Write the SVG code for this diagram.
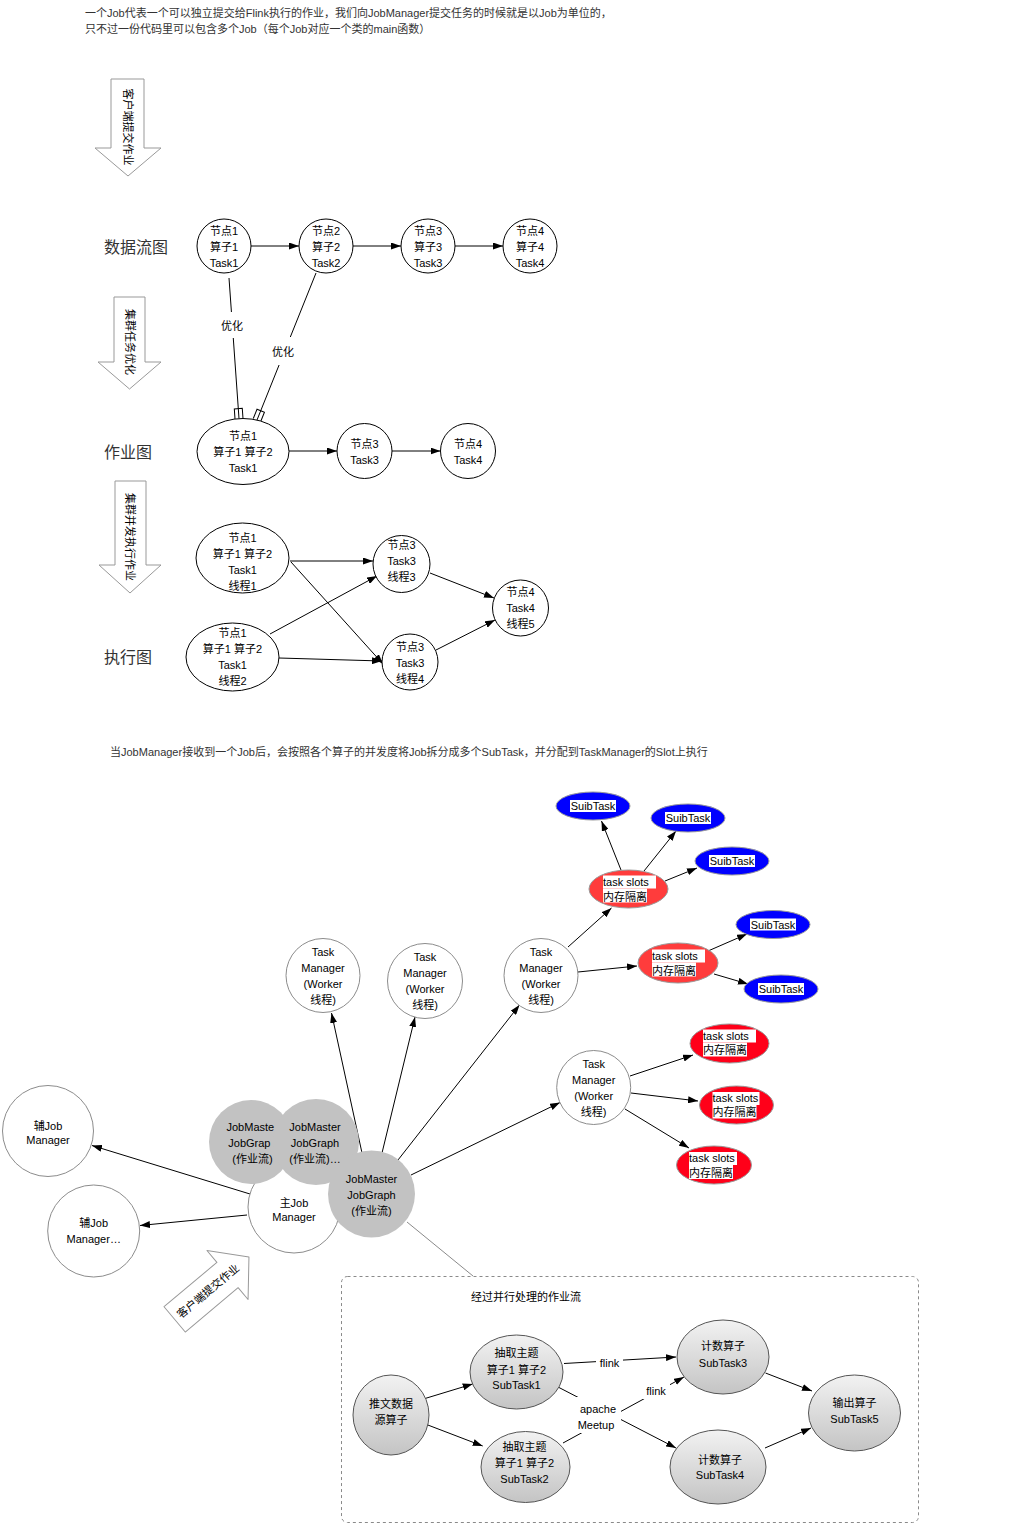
<svg xmlns="http://www.w3.org/2000/svg" width="1035" height="1524" viewBox="0 0 1035 1524">
<defs>
<style>
text{font-family:"Liberation Sans","Noto Sans CJK SC",sans-serif;font-size:11px;fill:#000;text-anchor:middle}
.note{text-anchor:start;fill:#333}
.big{font-size:16px;fill:#333;text-anchor:start}
.lab{text-anchor:start}
.n1{fill:#fff;stroke:#000;stroke-width:1}
.n2{fill:#fff;stroke:#8c8c8c;stroke-width:1}
.gray{fill:#c2c2c2;stroke:none}
.blue{fill:#0000ff;stroke:#9a9a9a}
.redA{fill:#ff3c3c;stroke:#9a9a9a}
.redB{fill:#ff0019;stroke:#9a9a9a}
.grad{fill:url(#g);stroke:#555}
.bigarrow{fill:#fff;stroke:#999;stroke-linejoin:round}
.e{fill:none;stroke:#000;stroke-width:1;marker-end:url(#ah)}
.fk{fill:none;stroke:#000;stroke-width:1;marker-end:url(#fork)}
.bg{fill:#fff}
</style>
<marker id="ah" markerUnits="userSpaceOnUse" markerWidth="10" markerHeight="7" viewBox="0 0 10 7" refX="10" refY="3.5" orient="auto"><path d="M0,0 L10,3.5 L0,7 Z" fill="#000"/></marker>
<marker id="fork" markerUnits="userSpaceOnUse" markerWidth="14" markerHeight="12" viewBox="-12 -6 14 12" refX="0" refY="0" orient="auto"><path d="M0,-4 H-10 V4 H0" fill="none" stroke="#000"/></marker>
<linearGradient id="g" x1="0" y1="0" x2="0" y2="1"><stop offset="0" stop-color="#f2f2f2"/><stop offset="1" stop-color="#c4c4c4"/></linearGradient>
</defs>
<rect width="1035" height="1524" fill="#fff"/>

<g id="notes">
<text class="note" x="85" y="17">一个Job代表一个可以独立提交给Flink执行的作业，我们向JobManager提交任务的时候就是以Job为单位的，</text>
<text class="note" x="85" y="33">只不过一份代码里可以包含多个Job（每个Job对应一个类的main函数）</text>
<text class="note" x="110" y="756">当JobManager接收到一个Job后，会按照各个算子的并发度将Job拆分成多个SubTask，并分配到TaskManager的Slot上执行</text>
<text class="big" x="104" y="253">数据流图</text>
<text class="big" x="104" y="458">作业图</text>
<text class="big" x="104" y="663">执行图</text>
</g>

<g id="arrow-submit">
<path class="bigarrow" d="M111,79 H144 V148 H161 L128,176 L95,148 H111 Z"/>
<text transform="translate(128,127) rotate(90)" x="0" y="4">客户端提交作业</text>
</g>
<g id="arrow-optimize">
<path class="bigarrow" d="M114,297 H145 V362 H161 L129.5,389 L98,362 H114 Z"/>
<text transform="translate(129.5,342) rotate(90)" x="0" y="4">集群任务优化</text>
</g>
<g id="arrow-execute">
<path class="bigarrow" d="M115,481 H146 V565 H161 L130,593 L99,565 H115 Z"/>
<text transform="translate(130,537) rotate(90)" x="0" y="4">集群并发执行作业</text>
</g>
<g id="arrow-submit2">
<path class="bigarrow" transform="translate(211.8,1288.2) rotate(-40)" d="M-48.5,-16.5 H20.5 V-32 L48.5,0 L20.5,32 V16.5 H-48.5 Z"/>
<text transform="translate(208,1291) rotate(-40)" x="0" y="4">客户端提交作业</text>
</g>

<g id="connectors">
<path class="e" d="M251,246 H299"/>
<path class="e" d="M353,246 H401"/>
<path class="e" d="M455,246 H503"/>
<path class="fk" d="M229,278 L239,418.6"/>
<path class="fk" d="M316,273 L257,420"/>
<path class="e" d="M289,451 H337"/>
<path class="e" d="M392,451 H440.5"/>
<path class="e" d="M290,561 H373"/>
<path class="e" d="M291,562 L383,664"/>
<path class="e" d="M270,634 L377,576"/>
<path class="e" d="M279,658 L382,661"/>
<path class="e" d="M430,573 L494,598"/>
<path class="e" d="M436,650 L495,620"/>

<path class="e" d="M250,1194 L92,1145.5"/>
<path class="e" d="M247,1215 L140,1225.5"/>
<path class="e" d="M362,1153 L331.5,1013"/>
<path class="e" d="M382,1153 L415,1017"/>
<path class="e" d="M398,1160 L519.5,1005"/>
<path class="e" d="M411,1175 L560,1102.5"/>
<path class="e" d="M568,947 L611.5,908"/>
<path class="e" d="M578,972 L637,966"/>
<path class="e" d="M621,870 L601.5,821"/>
<path class="e" d="M644,871 L676,831"/>
<path class="e" d="M665,881 L697,868"/>
<path class="e" d="M708,951 L747,934"/>
<path class="e" d="M714,974 L748,984"/>
<path class="e" d="M630,1076 L693,1055"/>
<path class="e" d="M631,1093 L698,1101"/>
<path class="e" d="M625,1109 L689,1148"/>
<path d="M407,1222 L473,1276" fill="none" stroke="#8a8a8a"/>

<path class="e" d="M425.7,1398.3 L472.7,1384"/>
<path class="e" d="M426,1424.3 L482.7,1446"/>
<path class="e" d="M564,1363.5 L676,1357"/>
<path class="e" d="M563,1443 L684,1377"/>
<path class="e" d="M558,1387 L676,1448"/>
<path class="e" d="M765.5,1373 L812,1391"/>
<path class="e" d="M765,1448 L811,1428"/>
</g>

<g id="edge-labels">
<rect class="bg" x="221" y="312" width="22" height="26"/>
<text x="232" y="330">优化</text>
<rect class="bg" x="272" y="337" width="22" height="28"/>
<text x="283" y="356">优化</text>
<rect class="bg" x="596" y="1355" width="27" height="15"/>
<text x="609.5" y="1366.5">flink</text>
<rect class="bg" x="643" y="1384" width="27" height="15"/>
<text x="656" y="1395">flink</text>
<rect class="bg" x="575" y="1397" width="46" height="36"/>
<text x="598" y="1413">apache</text>
<text x="596" y="1429">Meetup</text>
</g>

<g id="df1"><circle class="n1" cx="224" cy="246" r="27"/><text x="224" y="235">节点1</text><text x="224" y="251">算子1</text><text x="224" y="267">Task1</text></g>
<g id="df2"><circle class="n1" cx="326" cy="246" r="27"/><text x="326" y="235">节点2</text><text x="326" y="251">算子2</text><text x="326" y="267">Task2</text></g>
<g id="df3"><circle class="n1" cx="428" cy="246" r="27"/><text x="428" y="235">节点3</text><text x="428" y="251">算子3</text><text x="428" y="267">Task3</text></g>
<g id="df4"><circle class="n1" cx="530" cy="246" r="27"/><text x="530" y="235">节点4</text><text x="530" y="251">算子4</text><text x="530" y="267">Task4</text></g>

<g id="jg1"><ellipse class="n1" cx="243" cy="451.5" rx="46" ry="33"/><text x="243" y="440">节点1</text><text x="243" y="456">算子1 算子2</text><text x="243" y="472">Task1</text></g>
<g id="jg3"><circle class="n1" cx="364.5" cy="451" r="27.5"/><text x="364.5" y="448">节点3</text><text x="364.5" y="464">Task3</text></g>
<g id="jg4"><circle class="n1" cx="468" cy="451" r="27.5"/><text x="468" y="448">节点4</text><text x="468" y="464">Task4</text></g>

<g id="ex1"><ellipse class="n1" cx="242.5" cy="558" rx="46.5" ry="35"/><text x="242.5" y="542">节点1</text><text x="242.5" y="558">算子1 算子2</text><text x="242.5" y="574">Task1</text><text x="242.5" y="590">线程1</text></g>
<g id="ex2"><ellipse class="n1" cx="232.5" cy="657" rx="46.5" ry="34"/><text x="232.5" y="637">节点1</text><text x="232.5" y="653">算子1 算子2</text><text x="232.5" y="669">Task1</text><text x="232.5" y="685">线程2</text></g>
<g id="ex3"><circle class="n1" cx="401.5" cy="564" r="28.5"/><text x="401.5" y="549">节点3</text><text x="401.5" y="565">Task3</text><text x="401.5" y="581">线程3</text></g>
<g id="ex4"><circle class="n1" cx="410" cy="662" r="28"/><text x="410" y="651">节点3</text><text x="410" y="667">Task3</text><text x="410" y="683">线程4</text></g>
<g id="ex5"><circle class="n1" cx="520.5" cy="608" r="28"/><text x="520.5" y="596">节点4</text><text x="520.5" y="612">Task4</text><text x="520.5" y="628">线程5</text></g>

<g id="tm1"><circle class="n2" cx="323" cy="975.5" r="37"/><text x="323" y="956">Task</text><text x="323" y="972">Manager</text><text x="323" y="988">(Worker</text><text x="323" y="1004">线程)</text></g>
<g id="tm2"><circle class="n2" cx="425" cy="981" r="37.5"/><text x="425" y="961">Task</text><text x="425" y="977">Manager</text><text x="425" y="993">(Worker</text><text x="425" y="1009">线程)</text></g>
<g id="tm3"><circle class="n2" cx="541" cy="975.5" r="37"/><text x="541" y="956">Task</text><text x="541" y="972">Manager</text><text x="541" y="988">(Worker</text><text x="541" y="1004">线程)</text></g>
<g id="tm4"><circle class="n2" cx="593.7" cy="1087.5" r="37"/><text x="593.7" y="1068">Task</text><text x="593.7" y="1084">Manager</text><text x="593.7" y="1100">(Worker</text><text x="593.7" y="1116">线程)</text></g>

<g id="ajm1"><circle class="n2" cx="48" cy="1131" r="45.5"/><text x="48" y="1130">辅Job</text><text x="48" y="1144">Manager</text></g>
<g id="ajm2"><circle class="n2" cx="93.7" cy="1231" r="46"/><text x="93.7" y="1227">辅Job</text><text x="93.7" y="1243">Manager…</text></g>
<g id="mjm"><circle class="n2" cx="294" cy="1207" r="46"/><text x="294" y="1207">主Job</text><text x="294" y="1221">Manager</text></g>
<g id="jmaster1"><circle class="gray" cx="251" cy="1142" r="42"/><text class="lab" x="226.5" y="1131">JobMaste</text><text class="lab" x="228.3" y="1147">JobGrap</text><text x="252.5" y="1163">(作业流)</text></g>
<g id="jmaster2"><circle class="gray" cx="316" cy="1142" r="43"/><text x="315" y="1131">JobMaster</text><text x="315" y="1147">JobGraph</text><text x="315" y="1163">(作业流)…</text></g>
<g id="jmaster3"><circle class="gray" cx="371.5" cy="1194" r="43.5"/><text x="371.5" y="1183">JobMaster</text><text x="371.5" y="1199">JobGraph</text><text x="371.5" y="1215">(作业流)</text></g>

<g id="slot1"><ellipse class="redA" cx="628.5" cy="889" rx="39.5" ry="19"/><rect class="bg" x="603" y="875.5" width="53" height="13"/><rect class="bg" x="603" y="888.5" width="44" height="14"/><text class="lab" x="603" y="886">task slots</text><text class="lab" x="603" y="901">内存隔离</text></g>
<g id="slot2"><ellipse class="redA" cx="678" cy="963" rx="40" ry="20"/><rect class="bg" x="652" y="949.5" width="53" height="13"/><rect class="bg" x="652" y="962.5" width="44" height="14"/><text class="lab" x="652" y="960">task slots</text><text class="lab" x="652" y="975">内存隔离</text></g>
<g id="slot3"><ellipse class="redB" cx="729.5" cy="1043.5" rx="39.5" ry="19.5"/><rect class="bg" x="703" y="1029.5" width="53" height="13"/><rect class="bg" x="703" y="1042.5" width="44" height="14"/><text class="lab" x="703" y="1040">task slots</text><text class="lab" x="703" y="1054">内存隔离</text></g>
<g id="slot4"><ellipse class="redB" cx="736.5" cy="1105" rx="37" ry="19"/><rect class="bg" x="712.5" y="1092" width="47" height="13"/><rect class="bg" x="712.5" y="1105" width="44" height="13.5"/><text class="lab" x="712.5" y="1102">task slots</text><text class="lab" x="712.5" y="1116">内存隔离</text></g>
<g id="slot5"><ellipse class="redB" cx="714" cy="1165" rx="37.5" ry="19"/><rect class="bg" x="689" y="1152" width="48" height="13"/><rect class="bg" x="689" y="1165" width="44" height="14"/><text class="lab" x="689" y="1162">task slots</text><text class="lab" x="689" y="1177">内存隔离</text></g>

<g id="sub1"><ellipse class="blue" cx="593" cy="806" rx="37" ry="14"/><rect class="bg" x="570" y="800" width="46" height="12"/><text x="593" y="810">SuibTask</text></g>
<g id="sub2"><ellipse class="blue" cx="688" cy="818" rx="37" ry="14"/><rect class="bg" x="665" y="812" width="46" height="12"/><text x="688" y="822">SuibTask</text></g>
<g id="sub3"><ellipse class="blue" cx="732" cy="861" rx="37" ry="14"/><rect class="bg" x="709" y="855" width="46" height="12"/><text x="732" y="865">SuibTask</text></g>
<g id="sub4"><ellipse class="blue" cx="773" cy="924.5" rx="37" ry="14"/><rect class="bg" x="750" y="918.5" width="46" height="12"/><text x="773" y="928.5">SuibTask</text></g>
<g id="sub5"><ellipse class="blue" cx="781" cy="989" rx="37" ry="14"/><rect class="bg" x="758" y="983" width="46" height="12"/><text x="781" y="993">SuibTask</text></g>

<g id="parallel-box">
<rect x="341.5" y="1276.5" width="577" height="246" rx="6" fill="none" stroke="#8a8a8a" stroke-dasharray="3 3"/>
<text class="lab" x="471" y="1301">经过并行处理的作业流</text>
</g>
<g id="src"><ellipse class="grad" cx="391" cy="1415" rx="38" ry="40"/><text x="391" y="1408">推文数据</text><text x="391" y="1424">源算子</text></g>
<g id="st1"><ellipse class="grad" cx="516.5" cy="1372" rx="46.5" ry="37"/><text x="516.5" y="1357">抽取主题</text><text x="516.5" y="1374">算子1 算子2</text><text x="516.5" y="1389">SubTask1</text></g>
<g id="st2"><ellipse class="grad" cx="525.5" cy="1467" rx="44.5" ry="35.5"/><text x="524.5" y="1451">抽取主题</text><text x="524.5" y="1467">算子1 算子2</text><text x="524.5" y="1483">SubTask2</text></g>
<g id="st3"><ellipse class="grad" cx="723" cy="1357" rx="46" ry="37"/><text x="723" y="1350">计数算子</text><text x="723" y="1366.5">SubTask3</text></g>
<g id="st4"><ellipse class="grad" cx="718" cy="1467" rx="48" ry="37"/><text x="720" y="1464">计数算子</text><text x="720" y="1479">SubTask4</text></g>
<g id="st5"><ellipse class="grad" cx="854.5" cy="1413" rx="46" ry="38"/><text x="854.5" y="1407">输出算子</text><text x="854.5" y="1423">SubTask5</text></g>
</svg>
